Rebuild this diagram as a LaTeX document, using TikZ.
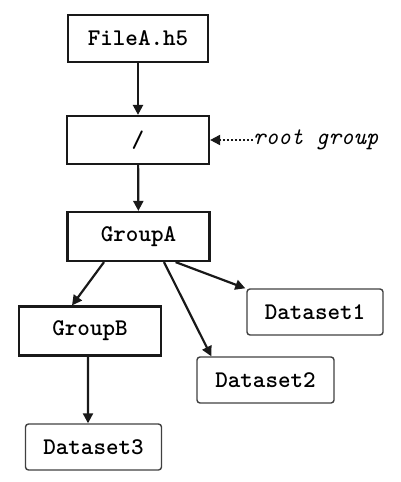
\documentclass[tikz,border=0pt]{standalone}
\usepackage{fontspec}
\newfontfamily\bmono{lmmonolt10-bold.otf}
\newfontfamily\imono{lmmono10-italic.otf}
\usetikzlibrary{arrows.meta}
\begin{document}
\begin{tikzpicture}[x=1bp,y=-1bp,
  grp/.style={draw=black!90,line width=2.2bp,minimum width=142bp,minimum height=48bp,inner sep=0pt,
    font=\fontsize{24}{28}\selectfont\bmono},
  dset/.style={draw=black!75,line width=1.4bp,rounded corners=3bp,minimum width=136bp,minimum height=46bp,inner sep=0pt,
    font=\fontsize{24}{28}\selectfont\bmono},
  link/.style={line width=2.2bp,draw=black!90,-{Triangle[length=10bp,width=10bp]}},
  note/.style={font=\fontsize{24}{28}\selectfont\imono,inner sep=0pt,anchor=west}]
\useasboundingbox (0,0) rectangle (400,482);
\node[grp,minimum width=140bp,minimum height=47bp] (f) at (138,38.5) {FileA.h5};
\node[grp] (r) at (138,140) {/};
\node[grp,minimum height=49bp] (ga) at (138.5,236.5) {GroupA};
\node[grp,minimum height=49bp] (gb) at (90,331) {GroupB};
\node[dset] (d1) at (315,312) {Dataset1};
\node[dset,minimum width=137bp] (d2) at (265.5,380) {Dataset2};
\node[dset] (d3) at (93.5,447) {Dataset3};
\node[note] (rg) at (253,140) {root group};
\draw[link] (f) -- (r);
\draw[link] (r) -- (ga);
\draw[link] ([xshift=-34.5bp]ga.south) -- ([xshift=-18bp]gb.north);
\draw[link] ([xshift=25.5bp]ga.south) -- ([xshift=15bp]d2.north west);
\draw[link] ([xshift=-35bp]ga.south east) -- ([xshift=-1bp]d1.north west);
\draw[link] ([xshift=-2bp]gb.south) -- ([xshift=-5.5bp]d3.north);
\draw[line width=2bp,draw=black!90,dotted,-{Triangle[length=10bp,width=10bp]}] (rg.west) -- (r.east);
\end{tikzpicture}
\end{document}
